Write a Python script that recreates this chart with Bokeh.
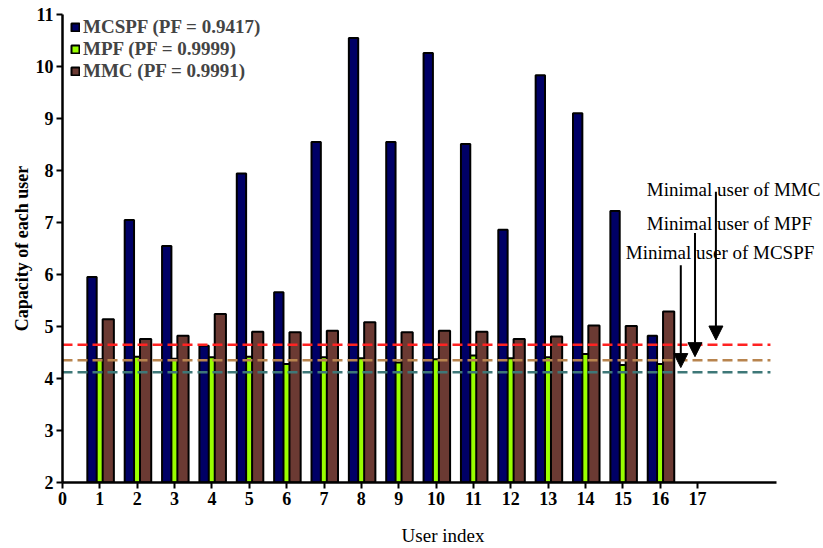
from bokeh.plotting import figure
from bokeh.models import (ColumnDataSource, Range1d, FixedTicker, Arrow, NormalHead,
                          Label, Legend, LegendItem)
from bokeh.transform import dodge
from bokeh.embed import file_html
from bokeh.resources import INLINE

users = list(range(1, 17))
mcspf = [5.95, 7.05, 6.55, 4.63, 7.94, 5.66, 8.55, 10.55, 8.55, 10.26, 8.51, 6.86, 9.83, 9.10, 7.22, 4.82]
mpf = [4.37, 4.42, 4.38, 4.41, 4.42, 4.28, 4.41, 4.39, 4.31, 4.37, 4.44, 4.39, 4.41, 4.47, 4.26, 4.28]
mmc = [5.14, 4.76, 4.82, 5.24, 4.90, 4.89, 4.92, 5.08, 4.89, 4.92, 4.90, 4.76, 4.81, 5.02, 5.01, 5.29]

series_labels = ["MCSPF (PF = 0.9417)", "MPF (PF = 0.9999)", "MMC (PF = 0.9991)"]

# minimal user capacities (dashed lines): MMC, MPF, MCSPF
min_levels = [4.65, 4.35, 4.12]
min_colors = ["#FF2222", "#B8844E", "#3E7878"]
min_line_start = 0.0
min_line_end = 18.95

# annotation arrows / texts
ann_texts = ["Minimal user of MCSPF", "Minimal user of MPF", "Minimal user of MMC"]
ann_text_x = [15.08, 15.64, 15.64]
ann_text_y = [6.43, 6.99, 7.63]
arrow_x = [16.55, 16.93, 17.49]
arrow_y_start = [6.18, 6.80, 7.59]
arrow_y_end = [4.21, 4.42, 4.74]

x_ticks = list(range(0, 18))
y_ticks = list(range(2, 12))
x_axis_end = 19.1

FONT = "Liberation Serif"

src = ColumnDataSource(dict(user=users, mcspf=mcspf, mpf=mpf, mmc=mmc))

p = figure(width=823, height=548, output_backend="svg", toolbar_location=None,
           x_range=Range1d(0, 20.37), y_range=Range1d(2, 11),
           min_border_left=62, min_border_top=14, min_border_bottom=65, min_border_right=0)
p.outline_line_color = None
p.xgrid.visible = False
p.ygrid.visible = False
p.background_fill_color = "white"

r_mpf = p.vbar(x=dodge("user", 0.0), top="mpf", bottom=2, width=0.3, source=src,
               fill_color="#99FF00", line_color="black", line_width=2)
r_mcspf = p.vbar(x=dodge("user", -0.21), top="mcspf", bottom=2, width=0.25, source=src,
                 fill_color="#000066", line_color="black", line_width=2)
r_mmc = p.vbar(x=dodge("user", 0.225), top="mmc", bottom=2, width=0.3, source=src,
               fill_color="#6B3A33", line_color="black", line_width=2)

p.segment(x0=[min_line_start] * 3, x1=[min_line_end] * 3, y0=min_levels, y1=min_levels,
          line_color=min_colors, line_width=2.5, line_dash="10 5")

for xa, ys, ye in zip(arrow_x, arrow_y_start, arrow_y_end):
    p.add_layout(Arrow(end=NormalHead(size=14, fill_color="black", line_color="black"),
                       x_start=xa, y_start=ys, x_end=xa, y_end=ye,
                       line_color="black", line_width=2))

for t, tx, ty in zip(ann_texts, ann_text_x, ann_text_y):
    p.add_layout(Label(x=tx, y=ty, text=t, text_font=FONT, text_font_size="19px",
                       text_baseline="middle", text_align="left", text_color="black"))

legend = Legend(items=[LegendItem(label=series_labels[0], renderers=[r_mcspf]),
                       LegendItem(label=series_labels[1], renderers=[r_mpf]),
                       LegendItem(label=series_labels[2], renderers=[r_mmc])],
                location=(8, 400), padding=0, margin=0, spacing=0,
                glyph_width=10, glyph_height=10, label_standoff=3,
                label_text_font=FONT, label_text_font_size="19px",
                label_text_font_style="bold",
                background_fill_alpha=0, border_line_color=None)
p.add_layout(legend)

for ax in (p.xaxis[0], p.yaxis[0]):
    ax.axis_line_width = 2.5
    ax.axis_line_color = "black"
    ax.major_tick_line_width = 2
    ax.major_tick_line_color = "black"
    ax.major_tick_in = 0
    ax.major_tick_out = 6
    ax.minor_tick_line_color = None
    ax.major_label_text_font = FONT
    ax.major_label_text_font_size = "18px"
    ax.major_label_text_font_style = "bold"
    ax.major_label_text_color = "black"
    ax.axis_label_text_font = FONT
    ax.axis_label_text_color = "black"

p.xaxis[0].ticker = FixedTicker(ticks=x_ticks)
p.xaxis[0].bounds = (0, x_axis_end)
p.yaxis[0].ticker = FixedTicker(ticks=y_ticks)
p.xaxis[0].axis_label = "User index"
p.yaxis[0].axis_label = "Capacity of each user"
p.xaxis[0].axis_label_text_font_size = "19px"
p.xaxis[0].axis_label_text_font_style = "normal"
p.yaxis[0].axis_label_text_font_size = "18px"
p.yaxis[0].axis_label_text_font_style = "bold"
p.xaxis[0].major_label_standoff = 3
p.xaxis[0].axis_label_standoff = 17
p.yaxis[0].major_label_standoff = 3
p.yaxis[0].axis_label_standoff = 1

open("out.html", "w").write(file_html(p, INLINE))
